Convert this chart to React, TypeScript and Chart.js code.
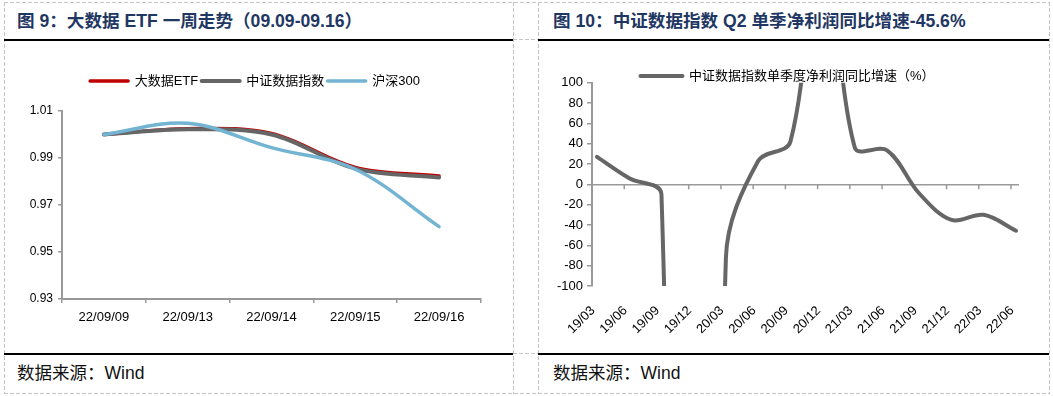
import React, { useEffect, useRef } from 'react';
import { Chart, registerables } from 'chart.js';

Chart.register(...registerables);

// ---------- data: figure 9 ----------
const etfDates = ['22/09/09', '22/09/13', '22/09/14', '22/09/15', '22/09/16'];
const bigDataEtf = [1.0, 1.0025, 1.0004, 0.986, 0.9823];
const csDataIndex = [1.0, 1.0022, 1.0, 0.9855, 0.9817];
const hs300 = [1.0, 1.0048, 0.9944, 0.9852, 0.9608];
const etfTicks = [0.93, 0.95, 0.97, 0.99, 1.01];

// ---------- data: figure 10 ----------
const quarters = ['19/03', '19/06', '19/09', '19/12', '20/03', '20/06', '20/09', '20/12', '21/03', '21/06', '21/09', '21/12', '22/03', '22/06'];
const profitGrowth = [27, 6, -10, -2000, -72, 23, 42, 260, 36, 33.5, -9, -35, -30, -45.6];
const growthTicks = [-100, -80, -60, -40, -20, 0, 20, 40, 60, 80, 100];

const FONT = '"Liberation Sans", "Noto Sans CJK SC", sans-serif';
const AXIS = '#999999';

const lineLegend = (chart: any) =>
  chart.data.datasets.map((ds: any, i: number) => ({
    text: ds.label,
    fillStyle: ds.borderColor,
    strokeStyle: ds.borderColor,
    lineWidth: ds.borderWidth,
    lineCap: 'round',
    pointStyle: 'line',
    hidden: false,
    datasetIndex: i,
    fontColor: '#000',
  }));

function etfConfig(): any {
  return {
    type: 'line',
    data: {
      labels: etfDates,
      datasets: [
        { label: '大数据ETF', data: bigDataEtf, borderColor: '#C00000', borderWidth: 3.5, order: 3 },
        { label: '中证数据指数', data: csDataIndex, borderColor: '#666666', borderWidth: 4, order: 2 },
        { label: '沪深300', data: hs300, borderColor: '#72B4D2', borderWidth: 3.5, order: 1 },
      ],
    },
    options: {
      responsive: false,
      animation: false,
      layout: { padding: { left: 25, right: 32, top: 30, bottom: 0 } },
      elements: {
        point: { radius: 0 },
        line: { tension: 0.35, capBezierPoints: false, borderCapStyle: 'round' },
      },
      plugins: {
        legend: {
          position: 'top',
          labels: {
            usePointStyle: true,
            pointStyleWidth: 38,
            padding: 3.5,
            color: '#000',
            font: { family: FONT, size: 13 },
            generateLabels: lineLegend,
          },
        },
        // empty spacer between the legend and the plot area
        title: { display: true, text: '', weight: 500, padding: 0, font: { size: 13.5, lineHeight: 1 } },
        tooltip: { enabled: false },
      },
      scales: {
        x: {
          offset: true,
          grid: { offset: true, drawOnChartArea: false, tickLength: 4, color: AXIS, lineWidth: 1.5 },
          border: { color: AXIS, width: 2 },
          ticks: { font: { family: FONT, size: 13 }, color: '#000', padding: 7, maxRotation: 0 },
          afterFit: (s: any) => { s.height = 54; },
        },
        y: {
          min: etfTicks[0],
          max: etfTicks[etfTicks.length - 1],
          afterBuildTicks: (s: any) => { s.ticks = etfTicks.map((v) => ({ value: v })); },
          grid: { drawOnChartArea: false, tickLength: 4, color: AXIS, lineWidth: 1.5 },
          border: { color: AXIS, width: 2 },
          ticks: { font: { family: FONT, size: 12 }, color: '#000', padding: 5, callback: (v: any) => Number(v).toFixed(2) },
          afterFit: (s: any) => { s.width = 33; },
        },
      },
    },
  };
}

const zeroAxisTicks = {
  id: 'zeroAxisTicks',
  beforeDatasetsDraw(chart: any) {
    const { ctx, scales } = chart;
    const x = scales.x;
    const y = scales.y;
    const y0 = y.getPixelForValue(0);
    ctx.save();
    ctx.strokeStyle = AXIS;
    ctx.lineWidth = 1.5;
    for (let k = 1; k < quarters.length; k++) {
      const px = x.getPixelForValue(x.min + k);
      ctx.beginPath();
      ctx.moveTo(px, y0);
      ctx.lineTo(px, y0 + 5);
      ctx.stroke();
    }
    ctx.restore();
  },
};

function growthConfig(): any {
  return {
    type: 'line',
    data: {
      datasets: [
        {
          label: '中证数据指数单季度净利润同比增速（%）',
          data: profitGrowth.map((v, i) => ({ x: i, y: v })),
          borderColor: '#666666',
          borderWidth: 4,
        },
      ],
    },
    plugins: [zeroAxisTicks],
    options: {
      responsive: false,
      animation: false,
      layout: { padding: { left: 18, right: 30, top: 0, bottom: 0 } },
      elements: {
        point: { radius: 0 },
        line: { tension: 0.35, capBezierPoints: false, borderCapStyle: 'round' },
      },
      plugins: {
        legend: {
          position: 'top',
          maxHeight: 41.7,
          labels: {
            usePointStyle: true,
            pointStyleWidth: 42,
            padding: 28.5,
            color: '#000',
            font: { family: FONT, size: 13 },
            generateLabels: lineLegend,
          },
        },
        tooltip: { enabled: false },
      },
      scales: {
        x: {
          type: 'linear',
          min: -0.155,
          max: 13.093,
          afterBuildTicks: (s: any) => { s.ticks = quarters.map((_, i) => ({ value: i })); },
          grid: { display: false, drawTicks: false },
          border: { display: false },
          ticks: {
            autoSkip: false,
            minRotation: 45,
            maxRotation: 45,
            padding: 17,
            labelOffset: -4,
            color: '#000',
            font: { family: FONT, size: 13 },
            callback: (v: any) => quarters[v] ?? '',
          },
          afterFit: (s: any) => { s.height = 67; },
        },
        y: {
          min: growthTicks[0],
          max: growthTicks[growthTicks.length - 1],
          afterBuildTicks: (s: any) => { s.ticks = growthTicks.map((v) => ({ value: v })); },
          grid: {
            drawOnChartArea: true,
            color: (c: any) => (c.tick && c.tick.value === 0 ? AXIS : 'rgba(0,0,0,0)'),
            tickColor: AXIS,
            tickLength: 5,
            lineWidth: 1.5,
          },
          border: { color: AXIS, width: 2 },
          ticks: { font: { family: FONT, size: 13 }, color: '#000', padding: 4 },
          afterFit: (s: any) => { s.width = 36; },
        },
      },
    },
  };
}

function ChartCanvas({ make, left, top, width, height }: { make: () => any; left: number; top: number; width: number; height: number }) {
  const ref = useRef<HTMLCanvasElement | null>(null);
  useEffect(() => {
    if (!ref.current) return;
    const chart = new Chart(ref.current, make());
    return () => chart.destroy();
  }, [make]);
  return (
    <canvas
      ref={ref}
      width={width}
      height={height}
      style={{ position: 'absolute', left, top, width, height }}
    />
  );
}

const titleStyle = (left: number): React.CSSProperties => ({
  position: 'absolute',
  left,
  top: 11,
  height: 20,
  lineHeight: '20px',
  fontFamily: FONT,
  fontSize: 17.6,
  fontWeight: 'bold',
  color: '#1F3763',
  whiteSpace: 'nowrap',
});

const sourceStyle = (left: number): React.CSSProperties => ({
  position: 'absolute',
  left,
  top: 363,
  height: 20,
  lineHeight: '20px',
  fontFamily: FONT,
  fontSize: 17.5,
  color: '#111',
  whiteSpace: 'nowrap',
});

export default function App() {
  const dash = { stroke: '#C4C4C4', strokeWidth: 1, strokeDasharray: '4 2' };
  return (
    <div style={{ position: 'absolute', left: 0, top: 0, width: 1053, height: 396, background: '#fff', overflow: 'hidden' }}>
      <svg width={1053} height={396} style={{ position: 'absolute', left: 0, top: 0 }}>
        <line x1={4} y1={2.5} x2={1050} y2={2.5} {...dash} />
        <line x1={4} y1={393.5} x2={1050} y2={393.5} {...dash} />
        <line x1={4.5} y1={2} x2={4.5} y2={394} {...dash} />
        <line x1={513.5} y1={2} x2={513.5} y2={394} {...dash} />
        <line x1={538.5} y1={2} x2={538.5} y2={394} {...dash} />
        <line x1={1049.5} y1={2} x2={1049.5} y2={394} {...dash} />
        <line x1={513} y1={39.5} x2={538} y2={39.5} {...dash} />
        <line x1={513} y1={353.5} x2={538} y2={353.5} {...dash} />
        <rect x={4} y={39} width={509} height={2} fill="#000" />
        <rect x={538} y={39} width={511} height={2} fill="#000" />
        <rect x={4} y={353} width={509} height={2} fill="#000" />
        <rect x={538} y={353} width={511} height={2} fill="#000" />
      </svg>
      <div style={titleStyle(17)}>图 9：大数据 ETF 一周走势（09.09-09.16）</div>
      <div style={titleStyle(553)}>图 10：中证数据指数 Q2 单季净利润同比增速-45.6%</div>
      <ChartCanvas make={etfConfig} left={4} top={41} width={509} height={312} />
      <ChartCanvas make={growthConfig} left={538} top={41} width={511} height={312} />
      <div style={sourceStyle(17)}>数据来源：Wind</div>
      <div style={sourceStyle(553)}>数据来源：Wind</div>
    </div>
  );
}
